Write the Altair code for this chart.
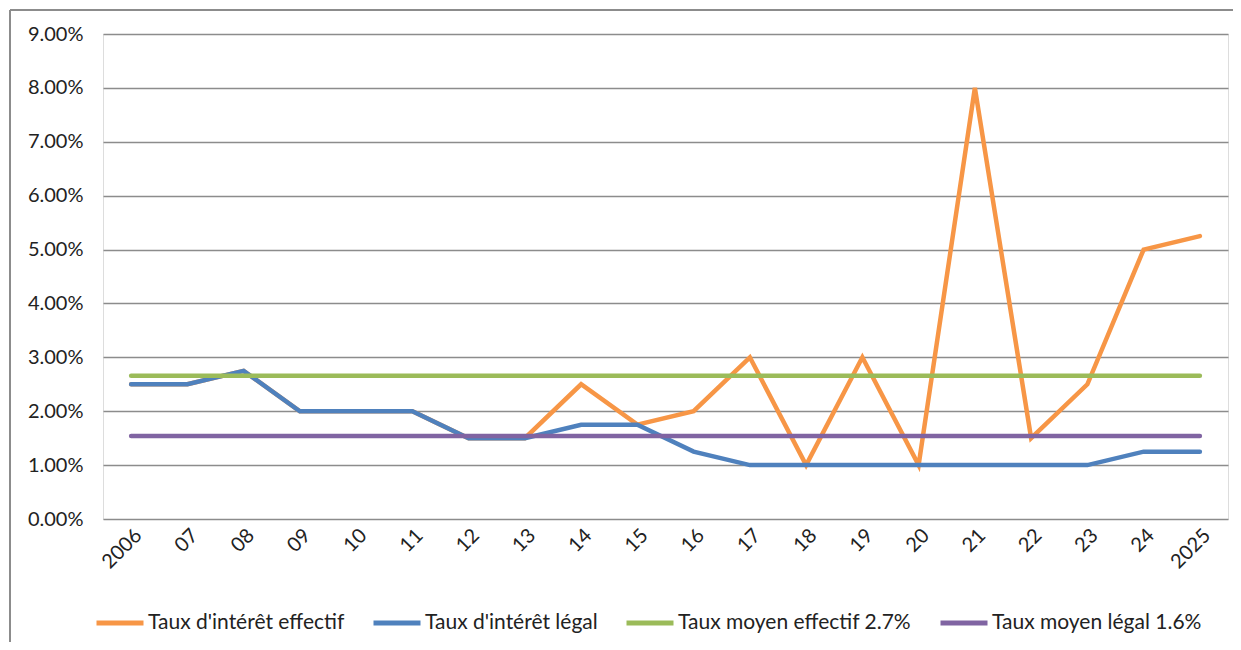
import altair as alt
import pandas as pd

years = ["2006", "07", "08", "09", "10", "11", "12", "13", "14", "15",
         "16", "17", "18", "19", "20", "21", "22", "23", "24", "2025"]
effectif = [2.5, 2.5, 2.75, 2.0, 2.0, 2.0, 1.5, 1.5, 2.5, 1.75,
            2.0, 3.0, 1.0, 3.0, 1.0, 8.0, 1.5, 2.5, 5.0, 5.25]
legal = [2.5, 2.5, 2.75, 2.0, 2.0, 2.0, 1.5, 1.5, 1.75, 1.75,
         1.25, 1.0, 1.0, 1.0, 1.0, 1.0, 1.0, 1.0, 1.25, 1.25]
moyen_effectif = 2.66
moyen_legal = 1.54

series_names = ["Taux d'intérêt effectif", "Taux d'intérêt légal",
                "Taux moyen effectif 2.7%", "Taux moyen légal 1.6%"]
series_colors = ["#F79646", "#4F81BD", "#9BBB59", "#8064A2"]

rows = []
for i, y in enumerate(years):
    rows.append({"year": y, "order": i, "series": series_names[0], "value": effectif[i] / 100})
    rows.append({"year": y, "order": i, "series": series_names[1], "value": legal[i] / 100})
    rows.append({"year": y, "order": i, "series": series_names[2], "value": moyen_effectif / 100})
    rows.append({"year": y, "order": i, "series": series_names[3], "value": moyen_legal / 100})
df = pd.DataFrame(rows)

FONT = "Lato"
W, H = 1125, 485

x_enc = alt.X("year:N", sort=years,
              scale=alt.Scale(type="point", padding=0.5),
              axis=alt.Axis(title=None, labelAngle=-45, labelFontSize=20,
                            labelColor="#222", labelFont=FONT, ticks=False,
                            domain=False, grid=False, labelPadding=6))
y_enc = alt.Y("value:Q",
              scale=alt.Scale(domain=[0, 0.09], nice=False),
              axis=alt.Axis(title=None, format=".2%", values=[i / 100 for i in range(10)],
                            labelFontSize=20, labelColor="#222", labelFont=FONT,
                            ticks=False, domain=False, grid=True,
                            gridColor="#8c8c8c", gridWidth=1.5, labelPadding=20))
color_enc = alt.Color("series:N",
                      scale=alt.Scale(domain=series_names, range=series_colors),
                      legend=alt.Legend(title=None, orient="none", direction="horizontal",
                                        legendX=-9, legendY=563,
                                        symbolType="stroke", symbolStrokeWidth=5,
                                        symbolSize=2209, labelFontSize=21,
                                        labelFont=FONT, labelColor="#222",
                                        columnPadding=18, symbolOffset=0,
                                        labelOffset=2, labelLimit=400))

layers = []
for name in series_names:
    layers.append(
        alt.Chart(df).transform_filter(alt.datum.series == name)
        .mark_line(strokeWidth=4.5, strokeCap="round", strokeJoin="miter")
        .encode(x=x_enc, y=y_enc, color=color_enc, order="order:Q")
    )

frame_left = alt.Chart(df).mark_rule(color="#8c8c8c", strokeWidth=2, clip=False).encode(
    x=alt.value(-93), y=alt.value(-24), y2=alt.value(H + 123))
frame_top = alt.Chart(df).mark_rule(color="#8c8c8c", strokeWidth=2, clip=False).encode(
    x=alt.value(-93), x2=alt.value(W + 5), y=alt.value(-24))

chart = alt.layer(*layers, frame_left, frame_top).properties(
    width=W, height=H,
    autosize=alt.AutoSizeParams(type="none"),
    padding={"left": 95, "top": 26, "right": 5, "bottom": 123},
).configure_view(stroke=None).configure(background="white")

chart.save("out.html", embed_options={"renderer": "svg", "actions": False})
